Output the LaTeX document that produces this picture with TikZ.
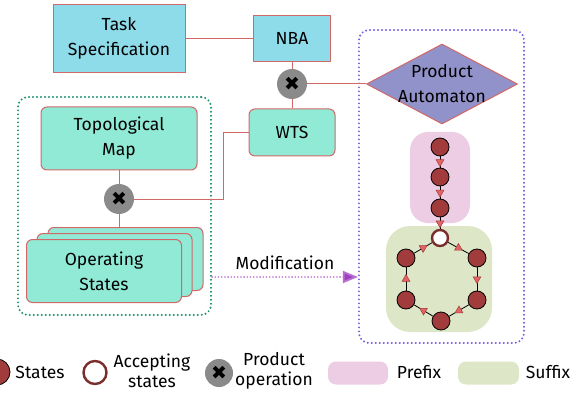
\documentclass[tikz,border=0pt]{standalone}
\usepackage{fontspec}
\setmainfont{Fira Sans}
\newfontfamily\symfont{DejaVu Sans}
\usepackage{xcolor}
\usetikzlibrary{shapes.geometric, arrows.meta, positioning}
\definecolor{taskcyan}{RGB}{142, 220, 234}
\definecolor{mapaqua}{RGB}{144, 234, 214}
\definecolor{autoblue}{RGB}{146, 146, 202}
\definecolor{edgered}{RGB}{208, 104, 104}
\definecolor{opgray}{RGB}{138, 138, 138}
\definecolor{envgreen}{RGB}{26, 144, 112}
\definecolor{autoviolet}{RGB}{120, 90, 224}
\definecolor{modpurple}{RGB}{160, 64, 192}
\definecolor{statered}{RGB}{162, 60, 60}
\definecolor{prefixpink}{RGB}{236, 205, 227}
\definecolor{suffixgreen}{RGB}{221, 230, 198}
\definecolor{tipred}{RGB}{226, 100, 100}

\begin{document}
\begin{tikzpicture}[x=1pt, y=-1pt, every node/.style={font=\fontsize{17.5}{25}\selectfont},
  block/.style={draw=edgered, line width=1pt, inner sep=0, align=center},
  taskbox/.style={block, fill=taskcyan},
  mapbox/.style={block, fill=mapaqua, rounded corners=6pt},
  prodop/.style={circle, fill=opgray, minimum size=30pt, inner sep=0, font=\symfont\fontsize{19}{19}\selectfont},
  link/.style={edgered, line width=1pt},
  envbox/.style={draw=envgreen, rounded corners=10pt, line width=2.2pt, dash pattern=on 0pt off 4pt, line cap=round, inner sep=0},
  autobox/.style={envbox, draw=autoviolet},
  prefixregion/.style={fill=prefixpink, rounded corners=18pt, inner sep=0},
  suffixregion/.style={fill=suffixgreen, rounded corners=24pt, inner sep=0},
  state/.style={circle, draw=black, fill=statered, minimum size=18pt, inner sep=0, line width=0.8pt},
  accstate/.style={circle, draw=statered!75!black, fill=white, minimum size=16pt, inner sep=0, line width=2.4pt},
  trans/.style={black, line width=0.8pt},
  tipup/.style={regular polygon, regular polygon sides=3, fill=tipred, draw=statered, line width=0.5pt, inner sep=0, minimum size=9pt},
  tipdown/.style={tipup, shape border rotate=180},
  legendtext/.style={align=center, font=\fontsize{17.5}{20}\selectfont},
  modarrow/.style={modpurple!75, line width=1.8pt, dash pattern=on 0pt off 3.2pt, line cap=round, -{Triangle[length=15pt, width=12pt, fill=modpurple]}}]

\useasboundingbox (0,0) rectangle (585,395);

% Containers
\node[envbox, minimum width=193pt, minimum height=218pt] (env) at (114.5,206) {};
\node[autobox, minimum width=165pt, minimum height=313pt] (pabox) at (441.5,186.5) {};

% Task side
\node[taskbox, minimum width=132pt, minimum height=68pt] (task) at (119,38.5) {Task\\Specification};
\node[taskbox, minimum width=77pt, minimum height=46pt] (nba) at (292,38.5) {NBA};
\node[prodop] (op1) at (292,84) {✖};
\node[mapbox, minimum width=86pt, minimum height=47pt] (wts) at (292,132.5) {WTS};

% Environment side
\node[mapbox, minimum width=156pt, minimum height=63pt] (topo) at (119,138.5) {Topological\\Map};
\node[prodop] (op2) at (119,199) {✖};
\node[mapbox, minimum width=155pt, minimum height=63pt] (ops3) at (125.5,259) {};
\node[mapbox, minimum width=155pt, minimum height=63pt] (ops2) at (114.5,265) {};
\node[mapbox, minimum width=155pt, minimum height=63pt] (ops1) at (104,271) {Operating\\States};

% Product automaton
\node[diamond, draw=edgered, fill=autoblue, line width=1pt, minimum width=151pt, minimum height=80pt, inner sep=0,
  label={[align=center]center:Product\\Automaton}] (pa) at (442,84) {};

% Connections
\draw[link] (task) -- (nba);
\draw[link] (nba) -- (op1);
\draw[link] (op1) -- (wts);
\draw[link] (op1) -- (pa);
\draw[link] (topo) -- (op2);
\draw[link] (op2) -- (op2 |- ops3.north);
\coordinate (bend) at (223,199);
\draw[link] (op2) -- (bend) |- (wts);

% Modification
\coordinate (modfrom) at (env.east |- 0,277);
\draw[modarrow] (modfrom) -- (modfrom -| pabox.west) node[midway, above=3pt, text=black] {Modification};

% Prefix and suffix
\node[prefixregion, minimum width=60pt, minimum height=91pt] (prefix) at (440,177.5) {};
\node[suffixregion, minimum width=106pt, minimum height=106pt] (suffix) at (439,279) {};

\node[state] (p1) at (440,147) {};
\node[state] (p2) at (440,177) {};
\node[state] (p3) at (440,208) {};
\node[accstate] (s0) at (440,238) {};
\node[state] (s1) at (477,258) {};
\node[state] (s2) at (477,300) {};
\node[state] (s3) at (441,321) {};
\node[state] (s4) at (406,300) {};
\node[state] (s5) at (406,258) {};

\foreach \a/\b/\t in {p1/p2/tipdown, p2/p3/tipdown, p3/s0/tipdown, s0/s1/tipup, s1/s2/tipdown,
  s2/s3/tipup, s3/s4/tipdown, s4/s5/tipup, s5/s0/tipdown}
  \draw[trans] (\a) -- node[\t] {} (\b);

% Legend
\node[state, minimum size=26pt] (lstate) at (-3,372) {};
\node[legendtext] (lstatetxt) at (40,372) {States};
\node[accstate, minimum size=23pt] (lacc) at (95,372.5) {};
\node[legendtext] (lacctxt) at (152,371) {Accepting\\states};
\node[prodop, minimum size=28pt] (lop) at (219,373) {✖};
\node[legendtext] (loptxt) at (274,371) {Product\\operation};
\node[prefixregion, minimum width=60pt, minimum height=23pt, rounded corners=8pt] (lpre) at (358,373) {};
\node[legendtext] (lpretxt) at (419,372) {Prefix};
\node[suffixregion, minimum width=61pt, minimum height=23pt, rounded corners=8pt] (lsuf) at (488.5,373) {};
\node[legendtext] (lsuftxt) at (548,372) {Suffix};

\end{tikzpicture}
\end{document}
